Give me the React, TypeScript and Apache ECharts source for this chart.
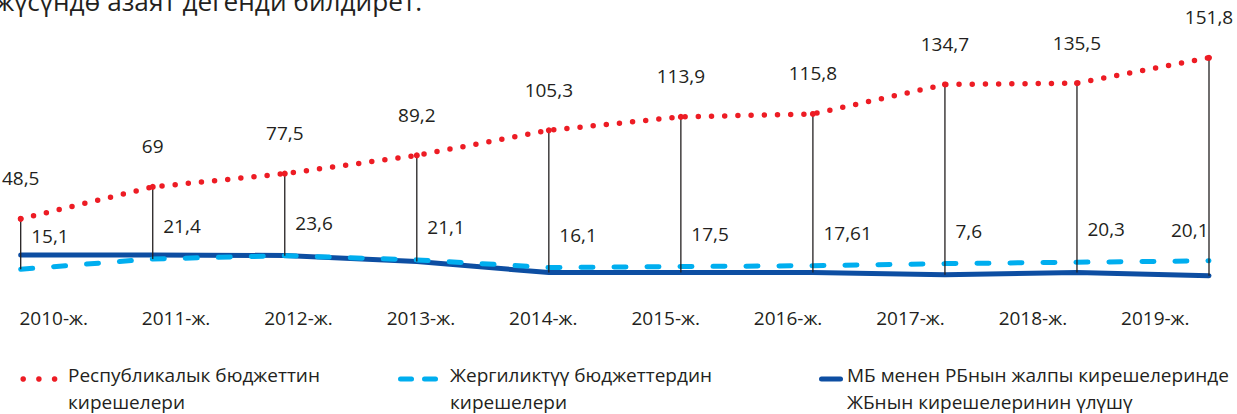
import React, { useEffect, useRef } from "react";
import * as echarts from "echarts";

// ---- data ----
const years = ["2010-ж.", "2011-ж.", "2012-ж.", "2013-ж.", "2014-ж.", "2015-ж.", "2016-ж.", "2017-ж.", "2018-ж.", "2019-ж."];
const republicanRevenue = [48.5, 69, 77.5, 89.2, 105.3, 113.9, 115.8, 134.7, 135.5, 151.8];
// local budget revenues as drawn by the dashed line
const localRevenue = [16.2, 22.8, 24.9, 22.2, 17.3, 17.9, 18.5, 19.8, 20.7, 21.6];
// values printed next to the local budget line
const localRevenueLabels = [15.1, 21.4, 23.6, 21.1, 16.1, 17.5, 17.61, 7.6, 20.3, 20.1];
// share of local budget revenues (solid dark line)
const localShare = [25.4, 25.4, 25.0, 21.1, 14.1, 14.1, 14.1, 12.6, 14.1, 12.1];

const seriesNames = [
  "Республикалык бюджеттин\nкирешелери",
  "Жергиликтүү бюджеттердин\nкирешелери",
  "МБ менен РБнын жалпы кирешелеринде\nЖБнын кирешелеринин үлүшү",
];
const titleText = "жүсүндө азаят дегенди билдирет.";

const RED = "#ED1C24";
const LIGHT = "#00AEEF";
const DARK = "#0D4EA2";
const TEXT = "#231F20";
const FONT = "'Open Sans', sans-serif";

const fmt = (v: number) => String(v).replace(".", ",");

export default function App() {
  const ref = useRef<HTMLDivElement>(null);

  useEffect(() => {
    document.body.style.margin = "0";
    if (!ref.current) return;
    const chart = echarts.init(ref.current, undefined, { renderer: "svg" });

    const ICON_Y = 379;
    const legendTextStyle = {
      fontFamily: FONT,
      fontSize: 19,
      lineHeight: 27,
      fill: TEXT,
      verticalAlign: "top",
      align: "left",
    };
    const legendTextX = [68, 450, 847];

    const option: any = {
      animation: false,
      backgroundColor: "#ffffff",
      textStyle: { fontFamily: FONT },
      graphic: [
        {
          type: "text",
          left: -5,
          top: -12,
          style: {
            text: titleText,
            fontFamily: FONT,
            fontSize: 26.2,
            fill: TEXT,
          },
        },
        // legend texts
        ...seriesNames.map((name, i) => ({
          type: "text",
          x: legendTextX[i],
          y: 361,
          silent: true,
          style: { ...legendTextStyle, text: name },
        })),
        // legend keys
        ...[23.2, 38.9, 54.6].map((cx) => ({
          type: "circle",
          shape: { cx, cy: ICON_Y, r: 2.8 },
          style: { fill: RED },
          silent: true,
        })),
        ...[398, 422].map((x) => ({
          type: "rect",
          shape: { x, y: ICON_Y - 2.5, width: 16, height: 5, r: 2.5 },
          style: { fill: LIGHT },
          silent: true,
        })),
        {
          type: "rect",
          shape: { x: 819, y: ICON_Y - 2.5, width: 24, height: 5, r: 2.5 },
          style: { fill: DARK },
          silent: true,
        },
      ],
      grid: [
        { left: 20.7, right: 28, top: 45, bottom: 119.5 },
        { left: 53.7, right: 81.7, top: 298, height: 1 },
      ],
      xAxis: [
        { type: "category", gridIndex: 0, data: years, boundaryGap: false, show: false },
        {
          type: "category",
          gridIndex: 1,
          data: years,
          boundaryGap: false,
          axisLine: { show: false },
          axisTick: { show: false },
          splitLine: { show: false },
          axisLabel: { interval: 0, margin: 9, fontFamily: FONT, fontSize: 19, color: TEXT },
        },
      ],
      yAxis: [
        { type: "value", gridIndex: 0, min: 0, max: 160, show: false },
        { type: "value", gridIndex: 1, show: false },
      ],
      series: [
        {
          name: seriesNames[2],
          type: "line",
          data: localShare,
          symbol: "circle",
          symbolSize: 1,
          itemStyle: { color: DARK },
          lineStyle: { color: DARK, width: 5, cap: "round", join: "round" },
          z: 2,
        },
        {
          name: seriesNames[1],
          type: "line",
          data: localRevenue.map((v, i) => ({
            value: v,
            label:
              i === localRevenue.length - 1
                ? { position: "left", distance: 0, offset: [0, -31] }
                : undefined,
          })),
          symbol: "circle",
          symbolSize: 1,
          itemStyle: { color: LIGHT },
          lineStyle: { color: LIGHT, width: 5, type: [12, 21], cap: "round" },
          label: {
            show: true,
            position: "right",
            distance: 10,
            offset: [0, -33],
            fontFamily: FONT,
            fontSize: 19,
            color: TEXT,
            formatter: (p: any) => fmt(localRevenueLabels[p.dataIndex]),
          },
          z: 3,
        },
        {
          type: "custom",
          name: "drop",
          data: republicanRevenue.map((v, i) => [i, v, Math.min(localRevenue[i], localShare[i])]),
          renderItem: (params: any, api: any) => {
            const a = api.coord([api.value(0), api.value(1)]);
            const b = api.coord([api.value(0), api.value(2)]);
            return {
              type: "line",
              shape: { x1: a[0], y1: a[1], x2: b[0], y2: b[1] },
              style: { stroke: TEXT, lineWidth: 1.3 },
            };
          },
          z: 4,
          silent: true,
        },
        {
          name: seriesNames[0],
          type: "line",
          data: republicanRevenue,
          symbol: "circle",
          symbolSize: 6,
          itemStyle: { color: RED },
          lineStyle: { color: RED, width: 5.5, type: [0, 13.2], cap: "round" },
          label: {
            show: true,
            position: "top",
            distance: 28,
            fontFamily: FONT,
            fontSize: 19,
            color: TEXT,
            formatter: (p: any) => fmt(p.value),
          },
          z: 5,
        },
      ],
    };

    chart.setOption(option);
    return () => chart.dispose();
  }, []);

  return <div ref={ref} style={{ width: 1237, height: 414 }} />;
}
